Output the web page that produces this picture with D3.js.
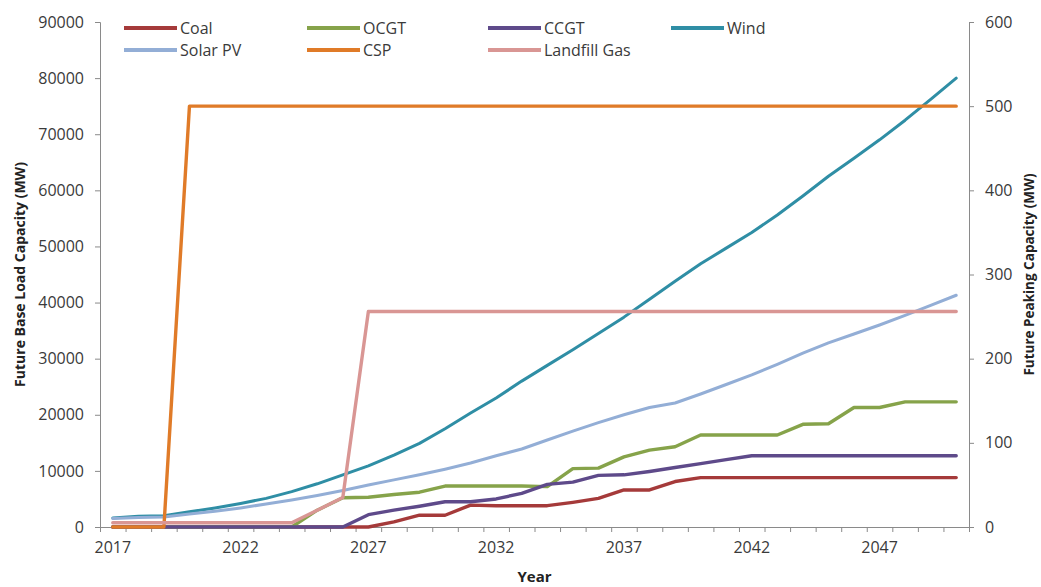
<!DOCTYPE html>
<html><head><meta charset="utf-8">
<script src="https://cdn.jsdelivr.net/npm/d3@7"></script>
<style>
body{margin:0;background:#fff;}
svg{display:block;font-family:"Open Sans",sans-serif;}
</style></head>
<body><svg id="c" width="1041" height="587"></svg>
<script>
const years = [2017,2018,2019,2020,2021,2022,2023,2024,2025,2026,2027,2028,2029,2030,2031,2032,2033,2034,2035,2036,2037,2038,2039,2040,2041,2042,2043,2044,2045,2046,2047,2048,2049,2050];
const xLabels = [2017,2022,2027,2032,2037,2042,2047];
const leftTicks = [0,10000,20000,30000,40000,50000,60000,70000,80000,90000];
const rightTicks = [0,100,200,300,400,500,600];

// Left axis (base load, MW)
const coal  = [0,0,0,0,0,0,0,0,0,0,0,900,2100,2100,3900,3800,3800,3800,4400,5100,6600,6600,8100,8800,8800,8800,8800,8800,8800,8800,8800,8800,8800,8800];
const ocgt  = [0,0,0,0,0,0,0,0,3000,5200,5300,5800,6200,7300,7300,7300,7300,7200,10400,10500,12500,13700,14300,16400,16400,16400,16400,18300,18400,21300,21300,22300,22300,22300];
const ccgt  = [0,0,0,0,0,0,0,0,0,0,2200,3000,3700,4500,4500,5000,6000,7600,8000,9200,9300,9900,10600,11300,12000,12700,12700,12700,12700,12700,12700,12700,12700,12700];
const wind  = [1600,1900,2000,2700,3400,4200,5100,6300,7700,9300,10900,12800,14900,17500,20300,23000,26000,28800,31600,34500,37400,40600,43800,46900,49700,52500,55600,59000,62500,65700,69000,72500,76200,80000];
const solar = [1500,1700,1800,2300,2800,3400,4100,4800,5600,6500,7500,8400,9300,10300,11400,12700,13900,15500,17100,18600,20000,21300,22100,23700,25400,27100,29000,31000,32800,34400,36000,37700,39500,41300];
// Right axis (peaking, MW)
const csp      = [0,0,0,500,500,500,500,500,500,500,500,500,500,500,500,500,500,500,500,500,500,500,500,500,500,500,500,500,500,500,500,500,500,500];
const landfill = [5,5,5,5,5,5,5,5,20,35,256,256,256,256,256,256,256,256,256,256,256,256,256,256,256,256,256,256,256,256,256,256,256,256];

const seriesNames = ["Coal","OCGT","CCGT","Wind","Solar PV","CSP","Landfill Gas"];
const seriesColors = ["#A53A3A","#86A34A","#5E4A8A","#2F8EA5","#93AED6","#E07B28","#D99694"];
const seriesData = [coal,ocgt,ccgt,wind,solar,csp,landfill];
const seriesAxis = ["L","L","L","L","L","R","R"];

const svg = d3.select("#c");
const L = 100, R = 969, T = 22, B = 527;
const x = d3.scaleBand().domain(years).range([L,R]).padding(0);
const xc = d => x(d) + x.bandwidth()/2;
const yL = d3.scaleLinear().domain([0,90000]).range([B,T]);
const yR = d3.scaleLinear().domain([0,600]).range([B,T]);
const axisColor = "#8a8a8a", textColor = "#3a3a3a";

function styleAxis(g){
  g.select(".domain").attr("stroke",axisColor);
  g.selectAll(".tick line").attr("stroke",axisColor);
  g.selectAll(".tick text").attr("fill",textColor).style("font-size","16px").style("font-family","'Open Sans',sans-serif");
}

svg.append("g").attr("transform",`translate(${L},0)`)
  .call(d3.axisLeft(yL).tickValues(leftTicks).tickSize(5).tickSizeOuter(5).tickPadding(11).tickFormat(d3.format("d")))
  .call(styleAxis);
svg.append("g").attr("transform",`translate(${R},0)`)
  .call(d3.axisRight(yR).tickValues(rightTicks).tickSize(5).tickSizeOuter(5).tickPadding(11).tickFormat(d3.format("d")))
  .call(styleAxis);
const xb = d3.scaleLinear().domain([0,years.length]).range([L,R]);
svg.append("g").attr("transform",`translate(0,${B})`)
  .call(d3.axisBottom(xb).tickValues(d3.range(0,years.length+1)).tickSize(5).tickSizeOuter(0).tickFormat(""))
  .call(styleAxis);
svg.append("g").attr("transform",`translate(0,${B})`)
  .call(d3.axisBottom(x).tickValues(xLabels).tickSize(0).tickPadding(15))
  .call(g=>g.select(".domain").remove())
  .call(styleAxis);

seriesData.forEach((vals,i)=>{
  const ys = seriesAxis[i]==="L" ? yL : yR;
  const line = d3.line().x((d,j)=>xc(years[j])).y(d=>ys(d));
  svg.append("path").datum(vals).attr("d",line)
    .attr("fill","none").attr("stroke",seriesColors[i])
    .attr("stroke-width", i===3||i===4 ? 3 : 3.4)
    .attr("stroke-linejoin","round").attr("stroke-linecap","round");
});

const colX = [124,307,488,671], rowY = [28,50];
seriesNames.forEach((n,i)=>{
  const cx = colX[i<4 ? i : i-4], cy = rowY[i<4 ? 0 : 1];
  const g = svg.append("g").attr("transform",`translate(${cx},${cy})`);
  g.append("line").attr("x1",0).attr("x2",53).attr("y1",0).attr("y2",0)
    .attr("stroke",seriesColors[i]).attr("stroke-width",4);
  g.append("text").attr("x",56).attr("y",0).attr("dy","0.35em")
    .attr("fill",textColor).style("font-size","16px").text(n);
});

svg.append("text").attr("transform",`translate(20,${(T+B)/2}) rotate(-90)`)
  .attr("text-anchor","middle").attr("dy","0.35em").attr("fill","#222")
  .style("font-size","14px").style("font-weight","bold").text("Future Base Load Capacity (MW)");
svg.append("text").attr("transform",`translate(1029,${(T+B)/2}) rotate(-90)`)
  .attr("text-anchor","middle").attr("dy","0.35em").attr("fill","#222")
  .style("font-size","13.5px").style("font-weight","bold").text("Future Peaking Capacity (MW)");
svg.append("text").attr("x",(L+R)/2).attr("y",577).attr("text-anchor","middle").attr("dy","0.35em")
  .attr("fill","#222").style("font-size","15px").style("font-weight","bold").text("Year");
</script></body></html>
